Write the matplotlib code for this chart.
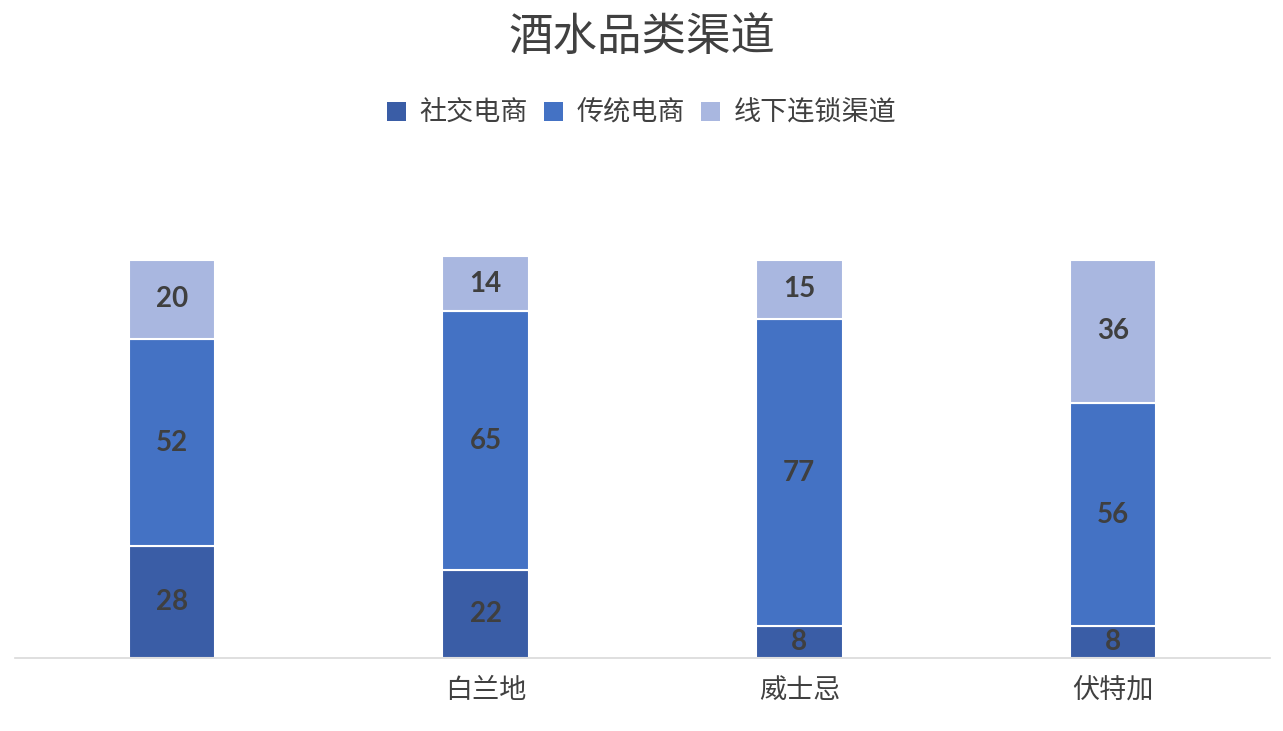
import numpy as np
import matplotlib
matplotlib.use('Agg')
import matplotlib.pyplot as plt
from matplotlib.patches import Patch

plt.rcParams['font.family'] = ['Noto Sans CJK SC', 'DejaVu Sans']

categories = ['', '白兰地', '威士忌', '伏特加']
series_names = ['社交电商', '传统电商', '线下连锁渠道']
social = [28, 22, 8, 8]
online = [52, 65, 77, 56]
offline = [20, 14, 15, 36]

colors = ['#3A5DA6', '#4472C4', '#A9B7E0']

fig = plt.figure(figsize=(12.83, 7.31), dpi=100)
ax = fig.add_axes([15 / 1283, 73 / 731, 1255 / 1283, 498 / 731])

x = np.arange(len(categories))
width = 0.275
bottom = np.zeros(len(categories))
for vals, col in zip([social, online, offline], colors):
    bars = ax.bar(x, vals, width, bottom=bottom, color=col,
                  edgecolor='white', linewidth=1.5)
    for b, v, b0 in zip(bars, vals, bottom):
        ax.text(b.get_x() + b.get_width() / 2, b0 + v / 2, str(v),
                ha='center', va='center', fontsize=20, fontweight='bold',
                color='#3F3F3F', family=['Lato', 'DejaVu Sans'])
    bottom = bottom + np.array(vals)

ax.set_xlim(-0.5, 3.5)
ax.set_ylim(0, 125)
ax.set_xticks(x)
ax.set_xticklabels(categories, fontsize=19.5, color='#404040')
ax.tick_params(axis='x', length=0, pad=14)
ax.set_yticks([])
for s in ['top', 'right', 'left']:
    ax.spines[s].set_visible(False)
ax.spines['bottom'].set_color('#D9D9D9')
ax.spines['bottom'].set_linewidth(1.2)

fig.text(0.5, 1 - 37 / 731, '酒水品类渠道', ha='center', va='center',
         fontsize=32, color='#404040')

handles = [Patch(facecolor=c, edgecolor='none') for c in colors]
fig.legend(handles, series_names, loc='center', ncol=3,
           bbox_to_anchor=(0.5, 1 - 113 / 731), frameon=False,
           fontsize=19.5, labelcolor='#404040', handlelength=0.7,
           handleheight=0.7, handletextpad=0.5, columnspacing=0.6)

fig.savefig('out.png', dpi=100)
